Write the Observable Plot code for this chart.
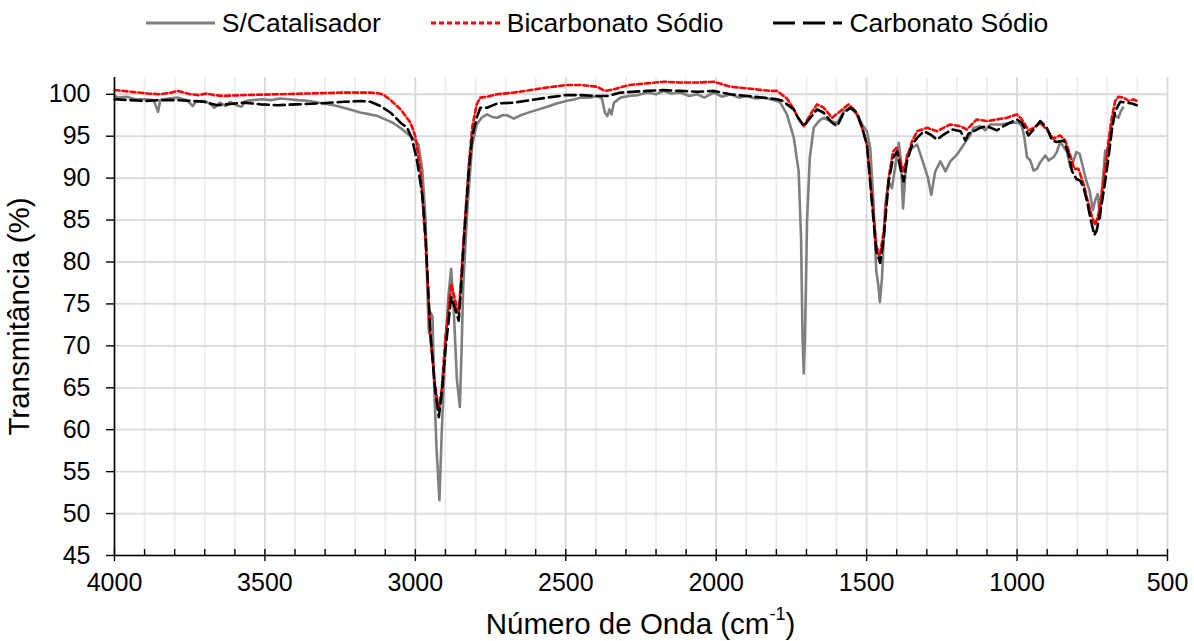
<!DOCTYPE html>
<html>
<head>
<meta charset="utf-8">
<script src="https://cdn.jsdelivr.net/npm/d3@7"></script>
<script src="https://cdn.jsdelivr.net/npm/@observablehq/plot@0.6"></script>
<style>
  html, body { margin: 0; padding: 0; background: #fff; }
  body { width: 1194px; height: 641px; overflow: hidden; font-family: "Liberation Sans", Arial, sans-serif; color: #000; }
  #legend { height: 46px; display: flex; justify-content: center; align-items: center; font-size: 26.5px; }
  .item { display: flex; align-items: center; gap: 7px; margin: 0 25px; }
  .item svg { display: block; }
  #chart svg { display: block; }
  #xtitle { height: 41px; box-sizing: border-box; padding: 9px 27px 0 114px; text-align: center; font-size: 29.5px; line-height: 30px; white-space: nowrap; }
  #xtitle sup { font-size: 18px; line-height: 0; position: relative; top: -3px; vertical-align: super; }
</style>
</head>
<body>
<div id="legend"></div>
<div id="chart"></div>
<div id="xtitle">Número de Onda (cm<sup>-1</sup>)</div>
<script>
// ---------- Data ----------
const seriesNames = ["S/Catalisador", "Bicarbonato Sódio", "Carbonato Sódio"];

const scWave = [4000,3985,3960,3930,3900,3870,3855,3848,3820,3790,3760,3740,3728,3700,3680,3668,3650,3630,3615,3595,3578,3565,3540,3510,3480,3450,3420,3390,3350,3320,3290,3260,3230,3200,3180,3150,3125,3100,3075,3050,3030,3015,3000,2990,2977,2966,2959,2955,2950,2943,2938,2930,2920,2912,2900,2890,2881,2872,2862,2852,2846,2841,2826,2811,2796,2780,2762,2745,2728,2710,2695,2673,2650,2617,2590,2562,2530,2499,2470,2451,2420,2396,2380,2370,2362,2355,2348,2340,2318,2290,2260,2230,2200,2174,2150,2119,2090,2063,2040,2008,1980,1953,1925,1897,1870,1842,1820,1798,1787,1765,1742,1726,1718,1713,1709,1705,1698,1689,1676,1659,1643,1621,1598,1576,1554,1532,1515,1499,1488,1477,1468,1462,1456,1449,1438,1427,1416,1404,1393,1386,1379,1373,1366,1349,1332,1310,1296,1285,1272,1255,1238,1222,1200,1177,1155,1145,1122,1106,1089,1056,1023,995,984,976,967,956,945,934,923,906,895,879,868,857,845,834,823,812,803,792,781,770,759,748,740,732,724,715,707,699,690,679,663,655,648];
const scTrans = [99.8,99.6,99.7,99.4,99.4,99.3,97.9,99.3,99.5,99.6,99.3,98.6,99.2,99.2,98.8,98.4,99.0,98.6,99.1,98.7,98.5,99.2,99.3,99.4,99.3,99.5,99.4,99.3,99.2,99.0,98.8,98.6,98.3,98.0,97.8,97.6,97.4,97.0,96.6,96.0,95.4,95.0,94.5,94.0,91.0,85.0,75.5,71.5,74.0,73.5,66.0,58.0,51.6,60.0,70.0,76.0,79.2,74.0,66.0,62.7,70.0,77.0,87.0,94.0,96.4,97.2,97.6,97.3,97.2,97.5,97.5,97.1,97.5,97.9,98.2,98.5,98.9,99.2,99.4,99.6,99.6,99.8,99.5,97.8,97.4,98.2,97.6,99.0,99.6,99.8,99.9,100.2,100.0,100.4,100.1,100.2,99.8,100.0,99.6,100.2,99.7,100.0,99.6,99.8,99.5,99.6,99.4,99.2,99.0,97.6,94.8,90.8,82.9,70.9,66.7,70.9,84.9,92.4,96.0,96.8,97.2,96.8,96.6,98.0,98.4,97.6,96.4,95.6,93.6,86.9,78.9,77.5,75.2,78.1,86.9,89.6,88.8,91.6,94.2,92.0,86.4,89.6,92.8,93.6,94.0,91.6,90.0,88.0,90.8,92.0,90.8,92.0,92.8,94.0,95.2,96.0,96.2,95.7,96.4,96.4,96.6,96.6,96.2,94.9,92.5,92.1,90.9,91.1,91.9,92.7,92.1,92.5,93.1,94.3,93.7,93.1,91.3,92.1,93.1,92.9,91.3,89.7,88.5,86.2,87.4,88.1,85.2,89.7,93.3,92.5,95.3,97.6,97.2,98.0,98.4];

const bicWave = [4000,3970,3947,3891,3847,3810,3791,3770,3747,3720,3692,3670,3640,3570,3459,3348,3237,3149,3120,3104,3082,3049,3016,3000,2983,2966,2950,2935,2922,2912,2900,2881,2868,2856,2848,2839,2822,2811,2796,2784,2762,2728,2673,2617,2562,2499,2451,2396,2370,2340,2290,2230,2174,2119,2063,2008,1980,1953,1897,1820,1798,1776,1765,1742,1728,1709,1687,1665,1643,1615,1587,1560,1537,1515,1499,1482,1468,1457,1443,1427,1412,1401,1388,1377,1366,1349,1332,1299,1266,1222,1189,1167,1134,1100,1067,1034,1001,984,962,945,923,901,879,857,840,823,810,796,779,766,751,740,729,718,707,696,685,674,663,646,629,613,602];
const bicTrans = [100.5,100.4,100.3,100.1,100.0,100.2,100.4,100.2,100.0,99.9,100.1,99.9,99.8,99.9,100.0,100.1,100.2,100.2,100.1,99.9,99.3,98.2,96.6,95.0,91.0,82.2,71.0,65.5,62.3,65.0,71.0,77.4,75.5,73.8,78.0,83.0,91.7,96.1,98.8,99.6,99.7,100.0,100.2,100.5,100.8,101.1,101.1,100.9,100.4,100.6,101.1,101.3,101.5,101.4,101.4,101.5,101.2,100.9,100.7,100.4,100.4,99.8,99.5,98.2,97.2,96.2,97.6,98.8,98.4,97.2,98.0,98.8,98.0,96.0,94.0,87.6,82.1,80.5,83.7,90.0,93.2,93.6,92.0,90.8,92.4,94.4,95.6,96.0,95.6,96.4,96.2,95.8,97.0,96.8,97.0,97.2,97.6,97.0,95.7,96.0,96.6,95.8,94.7,95.1,94.5,92.7,91.1,91.1,89.3,87.4,85.4,84.4,85.8,88.5,91.3,94.5,97.2,99.2,99.7,99.6,99.2,99.4,99.2];

const carbWave = [4000,3947,3902,3850,3791,3740,3703,3658,3600,3570,3514,3459,3392,3326,3237,3180,3149,3116,3082,3049,3027,3011,2994,2977,2966,2950,2935,2922,2912,2900,2881,2868,2856,2848,2839,2822,2811,2796,2784,2762,2728,2673,2617,2562,2499,2451,2396,2360,2318,2230,2174,2119,2063,2008,1953,1897,1820,1798,1776,1765,1742,1728,1709,1687,1665,1643,1615,1598,1576,1554,1532,1515,1499,1482,1468,1455,1443,1427,1412,1399,1388,1377,1366,1349,1332,1310,1288,1266,1244,1216,1188,1172,1161,1139,1122,1100,1067,1045,1023,1001,984,962,940,923,901,884,868,845,829,818,803,790,779,766,755,743,735,724,710,696,685,674,657,635,618,602];
const carbTrans = [99.4,99.3,99.2,99.3,99.3,99.2,99.1,98.7,98.9,99.0,98.8,98.7,98.8,98.9,99.1,99.2,99.1,98.6,97.8,96.6,96.0,94.7,92.0,88.0,83.0,71.5,65.0,61.5,64.5,69.5,75.8,74.5,73.0,77.0,82.5,91.0,95.0,97.2,98.4,98.4,98.9,99.0,99.3,99.6,99.9,99.9,99.8,99.8,100.2,100.4,100.5,100.4,100.3,100.4,100.0,99.8,99.5,99.4,99.2,98.8,98.2,97.2,96.2,97.2,98.2,97.8,96.6,96.2,97.8,98.4,97.8,96.0,94.0,86.9,81.3,79.9,82.9,89.6,92.4,93.2,91.2,89.6,92.0,94.0,94.8,95.6,95.2,94.6,95.2,95.8,95.6,94.5,95.3,95.7,96.0,96.2,95.7,96.2,96.6,97.0,96.6,95.1,96.0,96.8,96.0,94.5,94.3,94.5,92.9,90.9,89.9,89.7,88.9,87.0,85.0,83.2,83.8,85.8,88.9,92.5,95.7,98.0,99.1,99.0,98.9,98.7];

const xMajorTicks = [4000, 3500, 3000, 2500, 2000, 1500, 1000, 500];
const xMinorTicks = [3900,3800,3700,3600,3400,3300,3200,3100,2900,2800,2700,2600,2400,2300,2200,2100,1900,1800,1700,1600,1400,1300,1200,1100,900,800,700,600];
const yTicks = [45, 50, 55, 60, 65, 70, 75, 80, 85, 90, 95, 100];
const xDomain = [4000, 500];
const yDomain = [45, 102];

// ---------- Styles ----------
const styles = [
  {stroke: "#7f7f7f", dash: null, legendDash: null, width: 2.6},
  {stroke: "#ff0000", dash: "5,3", legendDash: "5,3", width: 2.6},
  {stroke: "#000000", dash: "11,5", legendDash: "22,8", width: 2.6}
];

const toRows = (w, t) => w.map((x, i) => ({x, y: t[i]}));
const rows = [toRows(scWave, scTrans), toRows(bicWave, bicTrans), toRows(carbWave, carbTrans)];

// ---------- Legend ----------
const legend = document.getElementById("legend");
seriesNames.forEach((name, i) => {
  const s = styles[i];
  const item = document.createElement("div");
  item.className = "item";
  item.innerHTML = `<svg width="69" height="10"><line x1="0" y1="5" x2="69" y2="5" stroke="${s.stroke}" stroke-width="${s.width + 0.4}" ${s.legendDash ? `stroke-dasharray="${s.legendDash}"` : ""}/></svg><span>${name}</span>`;
  legend.appendChild(item);
});

// ---------- Chart ----------
const plotHeight = 554, mTop = 31, mBottom = 45;
const chart = Plot.plot({
  width: 1194,
  height: plotHeight,
  marginTop: mTop,
  marginBottom: mBottom,
  marginLeft: 114,
  marginRight: 27,
  style: {fontFamily: "'Liberation Sans', Arial, sans-serif", fontSize: "25px", color: "#000", background: "#fff", overflow: "visible"},
  x: {domain: xDomain},
  y: {domain: yDomain},
  marks: [
    Plot.ruleX(xMinorTicks, {stroke: "#ececec", strokeWidth: 1.8}),
    Plot.ruleX(xMajorTicks, {stroke: "#d9d9d9", strokeWidth: 1.8}),
    Plot.ruleY(yTicks, {stroke: "#d9d9d9", strokeWidth: 1.8}),
    ...rows.map((r, i) => Plot.line(r, {x: "x", y: "y", stroke: styles[i].stroke, strokeWidth: styles[i].width, strokeDasharray: styles[i].dash, strokeLinejoin: "round"})),
    Plot.ruleY([yDomain[0]], {stroke: "#000", strokeWidth: 1.6}),
    Plot.ruleX([xDomain[0]], {stroke: "#000", strokeWidth: 1.6}),
    Plot.tickX(xMinorTicks, {x: d => d, stroke: "#000", strokeWidth: 1.4, insetTop: plotHeight - mTop - mBottom - 6}),
    Plot.tickX(xMajorTicks, {x: d => d, stroke: "#000", strokeWidth: 1.4, insetTop: plotHeight - mTop - mBottom - 6, insetBottom: -6}),
    Plot.axisX({ticks: xMajorTicks, tickSize: 0, tickPadding: 18, tickFormat: d => String(d), label: null}),
    Plot.axisY({ticks: yTicks, tickSize: 8, tickPadding: 16, strokeWidth: 1.4, label: null}),
    Plot.axisY({ticks: [], tickSize: 0, label: "Transmitância (%)", labelAnchor: "center", labelOffset: 106, labelArrow: "none", fontSize: 29.5})
  ]
});
document.getElementById("chart").appendChild(chart);
</script>
</body>
</html>
